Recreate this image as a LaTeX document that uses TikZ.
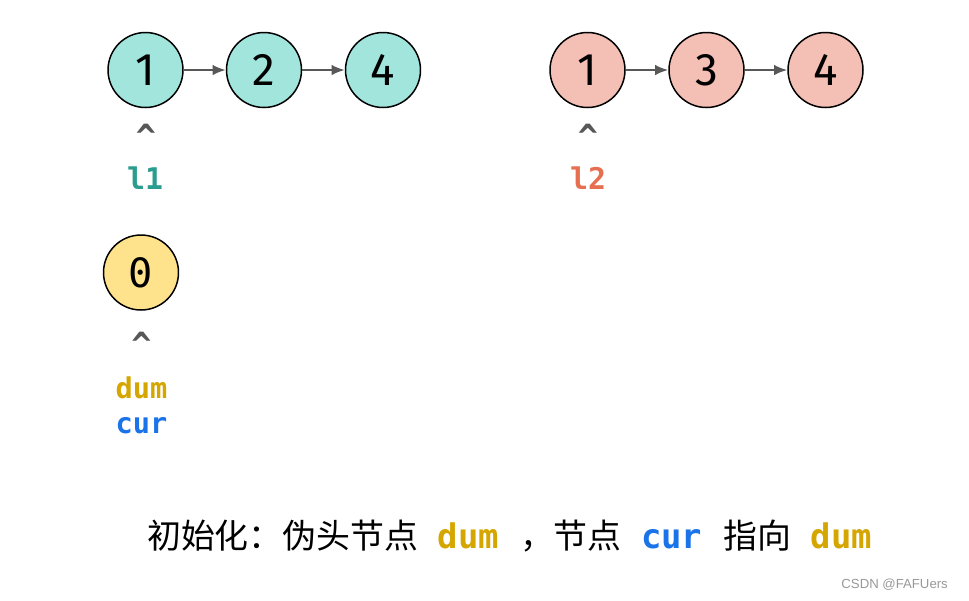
\documentclass[tikz,border=0pt]{standalone}
\usepackage{fontspec}
\setmainfont{Fira Sans}
\setmonofont{DejaVu Sans Mono}
\newfontfamily\cjk{Noto Sans CJK SC}
\newfontfamily\wmfont{Liberation Sans}
\usetikzlibrary{positioning,arrows.meta}
\definecolor{tealfill}{HTML}{A1E5DD}
\definecolor{pinkfill}{HTML}{F4BFB4}
\definecolor{yellowfill}{HTML}{FFE38C}
\definecolor{tealtxt}{HTML}{2A9D8F}
\definecolor{redtxt}{HTML}{E76F51}
\definecolor{dumtxt}{HTML}{D6A600}
\definecolor{curtxt}{HTML}{1A73E8}
\definecolor{arrgrey}{HTML}{585858}
\tikzset{
  lnode/.style={circle, draw=black, line width=0.85pt, minimum size=1.5cm, inner sep=0pt,
    font=\fontsize{26}{26}\selectfont},
  lnk/.style={->, draw=arrgrey, line width=1.1pt},
  caret/.style={anchor=base, text=arrgrey, font=\ttfamily\bfseries\fontsize{19}{19}\selectfont},
  ptr/.style={anchor=base, font=\ttfamily\bfseries\fontsize{17}{17}\selectfont},
  ptrs/.style={anchor=base, font=\ttfamily\bfseries\fontsize{16.3}{16.3}\selectfont}
}
\newcommand{\capdum}{{\ttfamily\bfseries\color{dumtxt}dum}}
\newcommand{\capcur}{{\ttfamily\bfseries\color{curtxt}cur}}
\begin{document}
\begin{tikzpicture}[>={Latex[length=7.5pt,width=6pt]}, x=0.02cm, y=-0.02cm]
\useasboundingbox[fill=white] (0,0) rectangle (969,600);
% list l1
\node[lnode, fill=tealfill] (a1) at (145.5,70) {1};
\node[lnode, fill=tealfill] (a2) at (264,70) {2};
\node[lnode, fill=tealfill] (a3) at (383,70) {4};
\draw[lnk] (a1)--(a2);
\draw[lnk] (a2)--(a3);
% list l2
\node[lnode, fill=pinkfill] (b1) at (587.5,70) {1};
\node[lnode, fill=pinkfill] (b2) at (706.5,70) {3};
\node[lnode, fill=pinkfill] (b3) at (825.5,70) {4};
\draw[lnk] (b1)--(b2);
\draw[lnk] (b2)--(b3);
% dummy node
\node[lnode, fill=yellowfill, font=\ttfamily\fontsize{23}{23}\selectfont] (d0) at (141,272.5) {0};
% pointers
\node[caret] (ca) at (146,148) {\textasciicircum};
\node[caret] (cb) at (588,148) {\textasciicircum};
\node[caret] (cd) at (141.5,356) {\textasciicircum};
\node[ptr, text=tealtxt] (l1) at (145,189) {l1};
\node[ptr, text=redtxt] (l2) at (588,189) {l2};
\node[ptrs, text=dumtxt] (dum) at (141.5,398) {dum};
\node[ptrs, text=curtxt] (cur) at (141.5,433) {cur};
% caption
\node[anchor=base, font=\fontsize{19.3}{19.3}\selectfont] (cap) at (509.5,548)
  {{\cjk 初始化：伪头节点}\hspace{11pt}\capdum\hspace{12pt}{\cjk ，节点}\hspace{11pt}\capcur\hspace{12pt}{\cjk 指向}\hspace{11pt}\capdum};
\node[anchor=east, text=black!40, font=\wmfont\fontsize{7.5}{7.5}\selectfont] (wm) at (954,585) {CSDN @FAFUers};
\end{tikzpicture}
\end{document}
